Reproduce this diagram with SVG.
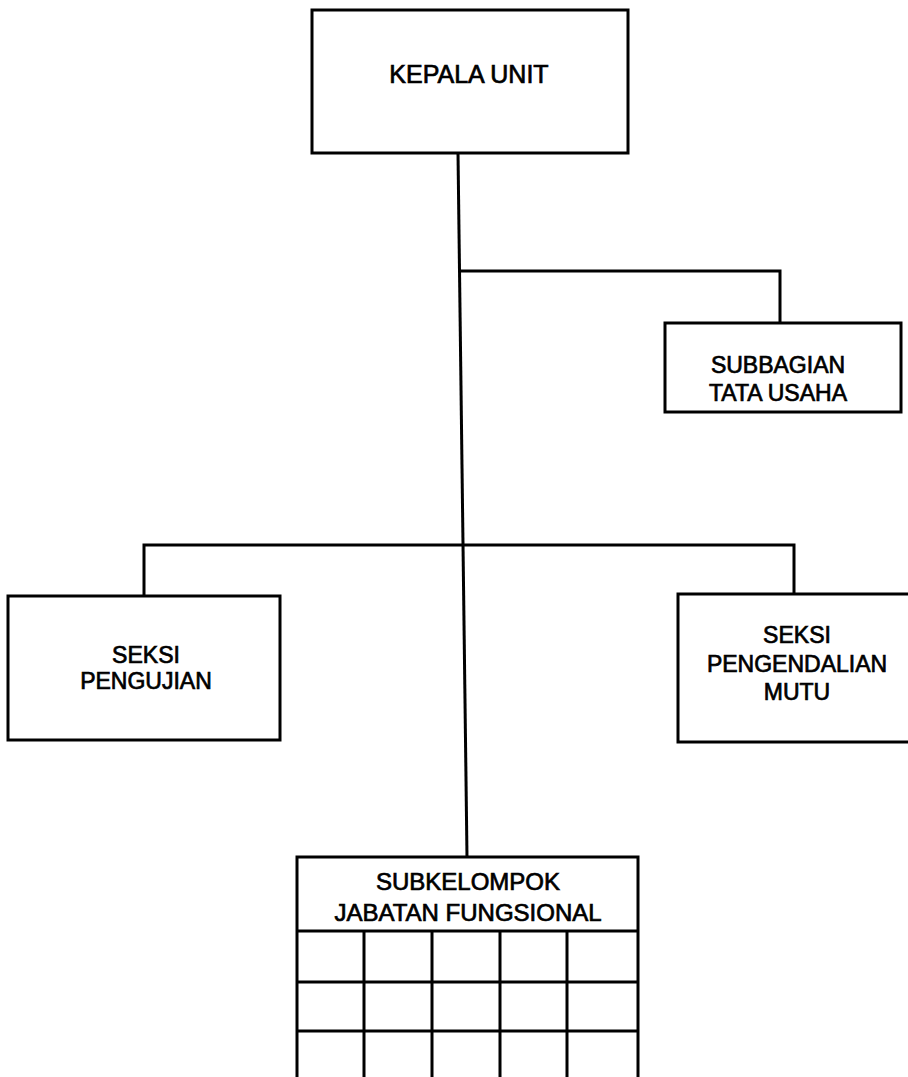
<svg xmlns="http://www.w3.org/2000/svg" width="908" height="1077" viewBox="0 0 908 1077">
<style>
.box{fill:#fff;stroke:#000;stroke-width:3}
.ln{fill:none;stroke:#000;stroke-width:3}
.t{font-family:"Liberation Sans",Arial,sans-serif;font-size:23px;fill:#000;text-anchor:middle;stroke:#000;stroke-width:0.7}
.big{font-size:25px}
.mid{font-size:24px}
</style>
<rect width="908" height="1077" fill="#fff"/>
<g id="connectors">
<path class="ln" d="M458,153 L467,857"/>
<path class="ln" d="M460,271 H780 V323"/>
<path class="ln" d="M144,596 V545 H794 V594"/>
</g>
<g id="kepala">
<rect class="box" x="312" y="10" width="316" height="143"/>
<text class="t big" x="469" y="83">KEPALA UNIT</text>
</g>
<g id="subbagian">
<rect class="box" x="665" y="323" width="236" height="89"/>
<text class="t" x="778" y="373">SUBBAGIAN</text>
<text class="t" x="778" y="401">TATA USAHA</text>
</g>
<g id="seksi-pengujian">
<rect class="box" x="8" y="596" width="272" height="144"/>
<text class="t" x="146" y="663">SEKSI</text>
<text class="t" x="146" y="689">PENGUJIAN</text>
</g>
<g id="seksi-mutu">
<rect class="box" x="678" y="594" width="240" height="148"/>
<text class="t" x="797" y="643">SEKSI</text>
<text class="t" x="797" y="672">PENGENDALIAN</text>
<text class="t" x="797" y="700">MUTU</text>
</g>
<g id="subkelompok">
<path class="ln" d="M297,1080 V857 H638 V1080"/>
<path class="ln" d="M297,931 H638 M297,982 H638 M297,1031 H638 M364,931 V1080 M432,931 V1080 M500,931 V1080 M567,931 V1080"/>
<text class="t mid" x="468" y="890">SUBKELOMPOK</text>
<text class="t mid" x="468" y="921">JABATAN FUNGSIONAL</text>
</g>
</svg>
